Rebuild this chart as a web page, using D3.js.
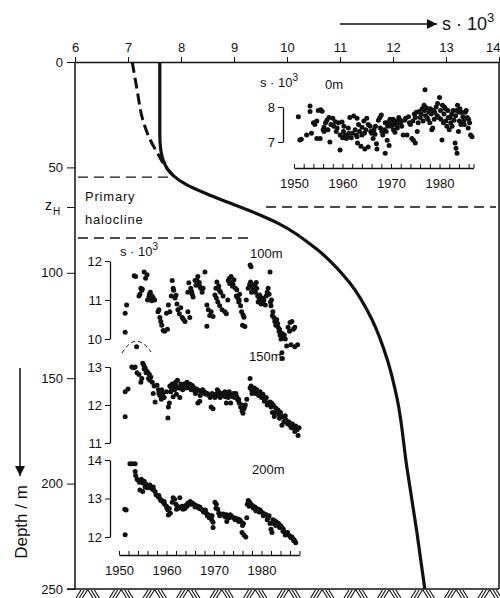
<!DOCTYPE html>
<html>
<head>
<meta charset="utf-8">
<title>Salinity profile</title>
<style>
  body { margin: 0; background: #fff; }
  svg { font-family: "Liberation Sans", Arial, sans-serif; }
  .ax line, .ax path { stroke: #111; }
  text { fill: #111; }
</style>
</head>
<body>
<svg width="500" height="598"></svg>
<script src="https://d3js.org/d3.v7.min.js"></script>
<script>
// main profile: depth (m) vs salinity (s*10^3)
const solidDepth = [0, 35, 42, 47, 51, 54, 58.3, 62.6, 66.4, 70.2, 77, 89, 105, 122, 141, 160, 192, 223, 250];
const solidSal   = [7.6, 7.6, 7.62, 7.67, 7.75, 7.86, 8.11, 8.49, 8.87, 9.26, 9.87, 10.57, 11.19, 11.6, 11.89, 12.08, 12.26, 12.45, 12.6];
const dashDepth = [0, 13, 27.5, 37, 43, 50, 54];
const dashSal   = [7.08, 7.17, 7.28, 7.42, 7.55, 7.72, 7.86];

const salTicks = [6, 7, 8, 9, 10, 11, 12, 13, 14];
const depthTicks = [0, 50, 100, 150, 200, 250];
const zH = 68.8, haloTop = 54.6, haloBottom = 83.5;
const yearTicks = [1950, 1960, 1970, 1980];

// time series [year, s*10^3]
const surface = [[1950.9,7.72],[1951.2,7.06],[1951.5,7.08],[1952.6,7.2],[1953.3,8.03],[1953.3,7.87],[1953.6,7.25],[1954.0,7.55],[1954.3,7.5],[1954.7,7.6],[1954.7,7.1],[1955.0,7.9],[1955.4,7.1],[1955.5,7.92],[1955.8,7.88],[1956.0,7.35],[1956.2,7.42],[1956.2,7.3],[1956.8,7.62],[1957.2,7.7],[1957.4,7.0],[1957.6,7.5],[1958.0,7.68],[1958.2,7.45],[1958.5,7.58],[1958.9,7.4],[1959.2,7.55],[1959.5,6.77],[1959.5,7.2],[1959.9,7.57],[1960.0,7.12],[1960.2,7.3],[1960.5,7.2],[1960.8,7.1],[1961.0,7.18],[1961.3,7.25],[1961.5,7.7],[1961.8,7.12],[1962.0,7.25],[1962.3,7.74],[1962.6,7.35],[1963.0,7.68],[1963.0,7.15],[1963.1,6.97],[1963.3,7.5],[1963.5,7.3],[1963.8,6.88],[1964.0,7.2],[1964.0,7.42],[1964.4,7.6],[1964.6,6.8],[1964.8,7.35],[1965.0,7.68],[1965.3,6.86],[1965.3,7.5],[1965.7,7.45],[1966.0,7.25],[1966.3,7.1],[1966.5,7.35],[1966.7,7.22],[1967.0,6.95],[1967.1,6.8],[1967.4,7.62],[1967.7,7.7],[1968.0,7.77],[1968.1,7.3],[1968.3,7.2],[1968.6,7.35],[1968.8,6.68],[1969.0,7.3],[1969.2,7.05],[1969.5,7.58],[1969.6,6.9],[1969.8,7.65],[1970.0,7.45],[1970.2,7.55],[1970.4,7.65],[1970.5,7.35],[1970.8,7.28],[1971.0,7.6],[1971.3,7.4],[1971.6,7.7],[1971.9,7.62],[1972.2,7.45],[1972.5,7.2],[1972.8,7.62],[1973.0,7.68],[1973.3,7.2],[1973.6,7.72],[1974.0,7.5],[1974.3,7.1],[1974.6,7.05],[1974.8,7.8],[1975.0,6.97],[1975.2,7.85],[1975.4,7.3],[1975.6,7.55],[1975.8,7.87],[1976.0,7.7],[1976.4,7.95],[1976.6,7.6],[1976.8,8.05],[1977.0,8.49],[1977.1,7.75],[1977.3,7.98],[1977.6,7.65],[1977.8,7.85],[1978.0,7.55],[1978.3,7.8],[1978.4,7.35],[1978.6,7.4],[1978.8,7.9],[1979.0,7.85],[1979.3,8.0],[1979.6,8.1],[1979.8,7.7],[1980.0,8.27],[1980.2,7.9],[1980.5,7.06],[1980.6,8.05],[1980.9,7.8],[1981.2,7.95],[1981.5,7.45],[1981.8,7.7],[1982.0,7.35],[1982.3,7.55],[1982.5,7.8],[1982.8,7.9],[1983.0,7.62],[1983.2,6.97],[1983.4,6.82],[1983.6,6.68],[1983.7,8.05],[1983.9,7.3],[1984.0,7.85],[1984.2,7.95],[1984.4,7.5],[1984.8,7.72],[1985.0,7.6],[1985.3,7.85],[1985.7,7.7],[1985.9,7.4],[1986.2,7.55],[1986.4,7.2],[1986.7,7.15],
  [1976.2,7.8],[1976.9,7.9],[1977.4,7.7],[1978.1,7.95],[1978.9,7.65],[1979.5,7.75],[1980.3,7.65],[1980.8,7.55],[1981.0,8.0],[1981.3,7.6],[1981.7,7.9],[1982.2,7.7],[1982.6,7.45],[1983.3,7.75],[1983.5,7.9],[1984.1,7.6],[1984.6,7.85],[1985.1,7.5],[1985.5,7.9],[1986.0,7.65],[1972.0,7.55],[1973.8,7.55],[1974.5,7.6],[1975.0,7.7],[1970.6,7.5],[1971.2,7.5],[1969.3,7.45],[1968.8,7.55],[1967.8,7.4],[1966.8,7.45],[1965.8,7.3],[1964.5,7.25],[1962.8,7.2],[1961.2,7.4],[1960.3,7.45],[1958.7,7.3],[1957.0,7.35],[1956.5,7.55]];

const m100 = [[1951.3,10.17],[1951.3,10.66],[1951.6,10.87],[1953.2,11.62],[1953.5,11.6],[1954.2,11.1],[1954.4,11.15],[1954.6,11.3],[1954.9,11.28],[1955.3,11.72],[1955.6,11.56],[1955.9,11.65],[1956.0,11.0],[1956.3,11.08],[1956.6,11.2],[1956.9,10.98],[1957.2,11.05],[1957.5,11.0],[1958.2,10.7],[1958.4,10.75],[1958.6,10.55],[1958.8,10.45],[1959.0,10.35],[1959.3,10.22],[1959.6,10.2],[1960.0,10.66],[1960.2,10.25],[1960.4,10.87],[1960.7,10.7],[1961.0,11.1],[1961.2,11.5],[1961.5,11.25],[1961.8,11.05],[1962.0,11.12],[1962.4,10.75],[1962.7,10.65],[1963.0,10.8],[1963.3,10.55],[1963.6,10.5],[1963.9,10.45],[1964.5,10.7],[1964.5,11.2],[1964.7,11.44],[1964.9,10.55],[1965.1,11.3],[1965.4,11.15],[1965.6,11.08],[1966.0,11.5],[1966.2,11.38],[1966.6,11.6],[1966.9,11.45],[1967.2,11.3],[1967.5,11.2],[1967.7,11.3],[1968.1,11.72],[1968.5,10.87],[1968.5,10.33],[1968.8,10.75],[1969.1,10.6],[1969.4,10.7],[1969.8,10.58],[1970.2,11.13],[1970.4,11.3],[1970.6,11.46],[1970.8,10.95],[1971.0,11.36],[1971.2,10.85],[1971.4,11.2],[1971.7,10.75],[1971.9,11.1],[1972.3,10.7],[1972.6,10.65],[1972.9,11.0],[1973.0,11.5],[1973.3,11.42],[1973.6,11.6],[1973.9,11.35],[1974.2,11.52],[1974.5,11.3],[1974.8,11.26],[1975.0,11.05],[1975.2,10.95],[1975.4,11.15],[1975.6,10.85],[1975.8,10.7],[1976.0,10.35],[1976.1,10.62],[1976.3,10.56],[1976.5,10.32],[1976.8,11.0],[1977.2,11.3],[1977.6,11.9],[1977.8,11.85],[1977.7,11.46],[1977.9,11.2],[1978.1,11.35],[1978.4,11.25],[1978.6,11.4],[1978.9,11.45],[1979.2,11.1],[1979.3,10.95],[1979.6,11.13],[1979.9,10.9],[1980.2,11.05],[1980.5,11.0],[1980.8,10.87],[1981.0,11.1],[1981.4,11.3],[1981.6,11.15],[1981.8,11.72],[1981.9,10.95],[1982.1,11.0],[1982.4,10.7],[1982.6,10.55],[1982.8,10.45],[1983.0,10.35],[1983.2,10.5],[1983.5,10.3],[1983.7,10.2],[1983.9,10.1],[1984.1,10.0],[1984.3,10.15],[1984.3,9.65],[1984.4,9.5],[1984.6,10.05],[1984.8,10.1],[1985.0,10.0],[1985.3,9.82],[1985.6,10.3],[1985.9,10.2],[1986.0,10.42],[1986.2,9.85],[1986.4,10.45],[1986.7,10.25],[1987.0,10.3],[1987.0,9.8],[1987.6,9.85],
  [1954.8,11.25],[1956.4,11.15],[1957.0,11.1],[1961.4,11.3],[1962.2,10.9],[1965.3,11.22],[1966.4,11.5],[1967.0,11.35],[1970.5,11.05],[1971.1,11.25],[1973.2,11.55],[1973.8,11.45],[1974.0,11.4],[1974.7,11.1],[1975.3,11.0],[1977.5,11.4],[1978.2,11.3],[1978.7,11.2],[1979.0,11.3],[1979.5,11.05],[1980.0,11.0],[1980.3,10.95],[1981.2,11.2],[1982.0,10.85],[1982.3,10.6],[1983.4,10.4],[1983.8,10.25],[1984.0,10.15]];

const m150 = [[1951.3,11.69],[1951.3,12.35],[1951.9,12.42],[1952.7,13.0],[1953.1,12.98],[1953.4,13.0],[1953.7,13.53],[1953.8,12.85],[1954.2,12.8],[1954.6,12.6],[1954.8,12.7],[1955.0,13.1],[1955.2,13.05],[1955.5,12.98],[1955.8,12.9],[1956.1,12.85],[1956.4,12.8],[1956.7,12.74],[1957.0,12.6],[1957.2,12.3],[1957.4,12.5],[1957.6,12.08],[1958.0,12.52],[1958.3,12.4],[1958.6,12.25],[1958.9,12.15],[1959.2,12.3],[1959.5,12.2],[1960.0,12.35],[1960.3,11.66],[1960.4,11.95],[1960.6,12.05],[1960.7,12.5],[1961.0,12.45],[1961.2,12.55],[1961.4,12.22],[1961.6,12.5],[1961.9,12.6],[1962.1,12.28],[1962.3,12.65],[1962.6,12.45],[1962.8,12.2],[1963.0,12.55],[1963.4,12.4],[1963.7,12.55],[1964.0,12.5],[1964.3,12.6],[1964.6,12.48],[1964.9,12.55],[1965.2,12.4],[1965.5,12.5],[1965.8,12.45],[1966.0,12.35],[1966.3,12.42],[1966.6,12.05],[1966.9,12.38],[1967.0,12.1],[1967.3,12.3],[1967.6,12.4],[1968.0,12.35],[1968.3,12.28],[1968.6,12.3],[1969.0,12.25],[1969.2,12.2],[1969.4,11.95],[1969.6,12.3],[1969.8,11.9],[1970.0,12.25],[1970.4,12.28],[1970.7,12.4],[1971.0,12.35],[1971.3,12.2],[1971.6,12.3],[1972.0,12.25],[1972.3,12.35],[1972.6,12.05],[1972.9,12.28],[1973.2,12.35],[1973.5,12.05],[1973.8,12.25],[1974.1,12.3],[1974.4,12.2],[1974.8,12.22],[1975.0,12.13],[1975.3,12.05],[1975.6,11.95],[1975.9,11.85],[1976.1,11.78],[1976.3,11.9],[1976.6,12.0],[1976.9,12.15],[1977.6,12.7],[1977.6,12.45],[1977.9,12.4],[1978.2,12.35],[1978.5,12.45],[1978.8,12.3],[1979.0,12.4],[1979.4,12.25],[1979.7,12.35],[1980.0,12.2],[1980.3,12.28],[1980.6,12.1],[1981.0,12.2],[1981.4,12.05],[1981.8,12.08],[1982.0,11.95],[1982.3,11.8],[1982.5,12.0],[1982.7,11.7],[1983.0,11.92],[1983.2,11.85],[1983.5,11.87],[1983.7,11.75],[1984.0,11.8],[1984.3,11.47],[1984.5,11.7],[1984.9,11.65],[1985.2,11.6],[1985.5,11.5],[1985.8,11.55],[1986.1,11.45],[1986.5,11.5],[1986.8,11.4],[1987.2,11.45],[1987.5,11.35],[1987.7,11.2],[1987.9,11.4],
  [1955.3,12.95],[1955.7,12.85],[1956.2,12.7],[1956.5,12.65],[1958.4,12.3],[1959.0,12.4],[1960.9,12.35],[1961.7,12.4],[1962.0,12.5],[1962.9,12.45],[1963.2,12.5],[1964.2,12.45],[1965.0,12.45],[1965.3,12.52],[1966.1,12.3],[1967.1,12.25],[1968.2,12.3],[1970.2,12.2],[1970.9,12.25],[1971.8,12.28],[1972.4,12.22],[1973.0,12.2],[1974.0,12.22],[1974.6,12.3],[1975.2,12.15],[1975.8,12.0],[1976.4,11.95],[1977.8,12.5],[1978.0,12.3],[1979.2,12.3],[1980.8,12.15],[1981.2,12.0],[1982.1,12.05],[1982.9,11.8],[1983.8,11.65],[1984.7,11.55],[1985.0,11.72],[1986.3,11.4],[1987.0,11.3]];

const m200 = [[1951.2,12.72],[1951.5,12.7],[1951.3,12.06],[1952.3,13.9],[1952.8,13.9],[1953.4,13.9],[1953.4,13.7],[1953.5,13.6],[1954.0,13.48],[1954.3,13.42],[1954.4,13.22],[1954.7,13.5],[1955.0,13.4],[1955.0,13.18],[1955.3,13.45],[1955.6,13.38],[1955.9,13.35],[1956.3,13.3],[1956.7,13.28],[1957.0,13.25],[1957.3,13.22],[1957.6,13.18],[1958.2,13.05],[1958.6,13.0],[1959.0,12.95],[1959.3,12.9],[1959.6,12.85],[1960.0,12.8],[1960.3,12.7],[1960.4,12.57],[1960.6,12.74],[1960.8,12.62],[1961.4,13.02],[1961.7,12.98],[1962.0,12.85],[1962.3,12.8],[1962.6,12.75],[1962.8,13.02],[1963.1,12.78],[1963.5,12.72],[1963.9,12.74],[1964.3,12.8],[1964.7,12.85],[1965.0,12.92],[1965.4,12.88],[1965.8,12.85],[1966.2,12.82],[1966.6,12.8],[1967.0,12.78],[1967.3,12.72],[1967.6,12.7],[1968.0,12.65],[1968.4,12.62],[1968.8,12.58],[1969.2,12.55],[1969.5,12.45],[1969.8,12.38],[1969.8,12.25],[1970.2,12.9],[1970.5,12.85],[1970.8,12.72],[1971.0,12.62],[1971.4,12.6],[1971.8,12.58],[1972.2,12.55],[1972.6,12.58],[1972.7,12.4],[1973.0,12.56],[1973.4,12.58],[1973.8,12.52],[1974.2,12.5],[1974.6,12.48],[1975.0,12.47],[1975.4,12.45],[1975.7,12.4],[1975.9,12.12],[1976.2,12.35],[1976.3,12.05],[1976.7,12.0],[1976.9,12.5],[1977.2,12.95],[1977.5,12.9],[1977.8,12.85],[1978.0,12.82],[1978.3,12.75],[1978.6,12.78],[1978.9,12.75],[1979.3,12.72],[1979.7,12.7],[1980.0,12.65],[1980.3,12.62],[1980.6,12.6],[1981.0,12.58],[1981.4,12.5],[1981.8,12.35],[1982.0,12.2],[1982.2,12.12],[1982.4,12.45],[1982.8,12.42],[1983.2,12.38],[1983.6,12.35],[1984.0,12.3],[1984.3,12.25],[1984.5,12.15],[1984.9,12.12],[1985.3,12.08],[1985.7,12.05],[1986.0,12.02],[1986.4,12.0],[1986.7,11.95],[1987.0,11.9],[1987.2,11.85],
  [1953.8,13.5],[1954.5,13.45],[1955.5,13.3],[1956.0,13.28],[1956.5,13.35],[1957.2,13.3],[1957.8,13.1],[1958.4,13.08],[1958.8,12.95],[1959.5,12.92],[1960.1,12.75],[1961.2,12.9],[1962.1,12.72],[1963.3,12.8],[1964.0,12.82],[1964.5,12.88],[1965.2,12.85],[1966.0,12.78],[1966.8,12.75],[1967.8,12.65],[1968.2,12.7],[1968.6,12.55],[1969.0,12.5],[1969.6,12.55],[1970.4,12.75],[1971.2,12.55],[1972.0,12.6],[1972.4,12.52],[1973.2,12.5],[1973.6,12.55],[1974.4,12.45],[1975.2,12.4],[1976.0,12.3],[1977.0,12.85],[1977.4,12.8],[1978.2,12.8],[1978.8,12.68],[1979.5,12.65],[1980.4,12.55],[1981.2,12.45],[1981.6,12.55],[1982.6,12.35],[1983.0,12.3],[1983.8,12.25],[1984.6,12.2],[1985.0,12.05],[1985.5,12.12],[1986.2,11.98],[1986.8,11.9]];

const svg = d3.select('svg');
const ink = '#111';
const dotR = 2.5;

// main scales
const x = d3.scaleLinear().domain([6, 14]).range([75, 499]);
const y = d3.scaleLinear().domain([0, 250]).range([62, 589]);

// frame
svg.append('line').attr('x1', 75).attr('x2', 75).attr('y1', 62).attr('y2', 589).attr('stroke', ink).attr('stroke-width', 1.5);
svg.append('line').attr('x1', 499).attr('x2', 499).attr('y1', 62).attr('y2', 589).attr('stroke', ink).attr('stroke-width', 1.5);

// top axis
const topAxis = svg.append('g').attr('class', 'ax').attr('transform', 'translate(0,62)')
  .call(d3.axisTop(x).tickValues(salTicks).tickSize(5).tickSizeOuter(0).tickFormat(d3.format('d')));
topAxis.select('.domain').attr('stroke-width', 1.5);
topAxis.selectAll('text').attr('font-size', 13).attr('dy', -2);
topAxis.selectAll('.tick').filter(d => d === 14).select('text').attr('text-anchor', 'end').attr('x', 1);

// left axis
const leftAxis = svg.append('g').attr('class', 'ax').attr('transform', 'translate(75,0)')
  .call(d3.axisLeft(y).tickValues(depthTicks.concat([zH])).tickSize(8).tickSizeOuter(0)
    .tickFormat(d => d === zH ? '' : d));
leftAxis.select('.domain').remove();
leftAxis.selectAll('text').attr('font-size', 13).attr('dx', -1);
const zl = svg.append('text').attr('x', 45).attr('y', y(zH) + 3).attr('font-size', 14);
zl.append('tspan').text('z');
zl.append('tspan').attr('font-size', 10).attr('dy', 5).attr('dx', 1).text('H');

// sea bed with hatching
svg.append('line').attr('x1', 67).attr('x2', 499).attr('y1', y(250)).attr('y2', y(250)).attr('stroke', ink).attr('stroke-width', 1.5);
const hatch = d3.path();
for (let gx = 76; gx < 500; gx += 33.5) {
  for (let k = 0; k < 3; k++) { hatch.moveTo(gx + k * 3.2, 598); hatch.lineTo(gx + k * 3.2 + 5, 590); }
  for (let k = 0; k < 3; k++) { hatch.moveTo(gx + 12 + k * 3.2, 590); hatch.lineTo(gx + 12 + k * 3.2 + 5, 598); }
}
svg.append('path').attr('d', hatch.toString()).attr('stroke', ink).attr('stroke-width', 1.1).attr('fill', 'none');

// halocline dashed lines
const dash = (x1, x2, d) => svg.append('line').attr('x1', x1).attr('x2', x2).attr('y1', y(d)).attr('y2', y(d))
  .attr('stroke', ink).attr('stroke-width', 1.4).attr('stroke-dasharray', '10,6');
dash(78, 172, haloTop);
dash(266, 496, zH);
dash(78, 248, haloBottom);
svg.append('text').attr('x', 85).attr('y', 201).attr('font-size', 13).attr('letter-spacing', 0.8).text('Primary');
svg.append('text').attr('x', 85).attr('y', 224).attr('font-size', 13).attr('letter-spacing', 0.8).text('halocline');

// profiles
const line = d3.line().curve(d3.curveMonotoneY);
svg.append('path')
  .attr('d', line(solidDepth.map((d, i) => [x(solidSal[i]), y(d)])))
  .attr('fill', 'none').attr('stroke', ink).attr('stroke-width', 3.2);
svg.append('path')
  .attr('d', line(dashDepth.map((d, i) => [x(dashSal[i]), y(d)])))
  .attr('fill', 'none').attr('stroke', ink).attr('stroke-width', 3).attr('stroke-dasharray', '11,5');

// top arrow & label
svg.append('defs').append('marker').attr('id', 'ah').attr('viewBox', '0 0 10 10').attr('refX', 10).attr('refY', 5)
  .attr('markerWidth', 12).attr('markerHeight', 10).attr('markerUnits', 'userSpaceOnUse').attr('orient', 'auto')
  .append('path').attr('d', 'M0,0L10,5L0,10Z').attr('fill', ink);
svg.append('line').attr('x1', 340).attr('x2', 437).attr('y1', 24).attr('y2', 24).attr('stroke', ink).attr('stroke-width', 1.5).attr('marker-end', 'url(#ah)');
const st = svg.append('text').attr('x', 442).attr('y', 30).attr('font-size', 18);
st.append('tspan').text('s · 10');
st.append('tspan').attr('font-size', 13).attr('dy', -8).text('3');

// depth arrow & label
svg.append('line').attr('x1', 20).attr('x2', 20).attr('y1', 368).attr('y2', 476).attr('stroke', ink).attr('stroke-width', 1.5).attr('marker-end', 'url(#ah)');
svg.append('text').attr('transform', 'translate(27,522) rotate(-90)').attr('text-anchor', 'middle').attr('font-size', 17).text('Depth / m');

// ---- surface inset
const xs = d3.scaleLinear().domain([1950, 1987]).range([294, 473.5]);
const ys = d3.scaleLinear().domain([7, 8]).range([142, 107]);
svg.append('g').attr('class', 'ax').attr('transform', 'translate(0,168)')
  .call(d3.axisTop(xs).tickValues(d3.range(1950, 1988, 2).concat([1987])).tickSize(4).tickSizeOuter(0).tickFormat(''));
svg.append('g').attr('class', 'ax').attr('transform', 'translate(0,168)')
  .call(d3.axisBottom(xs).tickValues(yearTicks).tickSize(0).tickFormat(d3.format('d')))
  .call(g => g.select('.domain').remove())
  .selectAll('text').attr('font-size', 13).attr('dy', 17);
const sy = svg.append('g').attr('class', 'ax').attr('transform', 'translate(283,0)')
  .call(d3.axisLeft(ys).tickValues([7, 8]).tickSize(5).tickSizeOuter(0).tickFormat(d3.format('d')));
sy.selectAll('text').attr('font-size', 13);
svg.selectAll('.ax path.domain').attr('stroke-width', 1.3);
svg.append('g').selectAll('circle').data(surface).join('circle')
  .attr('cx', d => xs(d[0])).attr('cy', d => ys(d[1])).attr('r', dotR).attr('fill', ink);
const sl = svg.append('text').attr('x', 260).attr('y', 87).attr('font-size', 13);
sl.append('tspan').text('s · 10');
sl.append('tspan').attr('font-size', 10).attr('dy', -6).text('3');
svg.append('text').attr('x', 325).attr('y', 89).attr('font-size', 13).text('0m');

// ---- deep insets
const xl = d3.scaleLinear().domain([1950, 1988]).range([119, 299.5]);
svg.append('g').attr('class', 'ax').attr('transform', 'translate(0,555)')
  .call(d3.axisTop(xl).tickValues(d3.range(1950, 1988, 2).concat([1988])).tickSize(4).tickSizeOuter(0).tickFormat(''))
  .select('.domain').attr('stroke-width', 1.3);
svg.append('g').attr('class', 'ax').attr('transform', 'translate(0,555)')
  .call(d3.axisBottom(xl).tickValues(yearTicks).tickSize(0).tickFormat(d3.format('d')))
  .call(g => g.select('.domain').remove())
  .selectAll('text').attr('font-size', 13).attr('dy', 17);

const insets = [
  { data: m100, dom: [10, 12], rng: [339, 261], label: '100m', lx: 250, ly: 258 },
  { data: m150, dom: [11, 13], rng: [443, 367], label: '150m', lx: 249, ly: 361 },
  { data: m200, dom: [12, 14], rng: [537, 460], label: '200m', lx: 252, ly: 474 }
];
insets.forEach(s => {
  const yy = d3.scaleLinear().domain(s.dom).range(s.rng);
  const g = svg.append('g').attr('class', 'ax').attr('transform', 'translate(110,0)')
    .call(d3.axisLeft(yy).tickValues(d3.range(s.dom[0], s.dom[1] + 1)).tickSize(5).tickSizeOuter(0).tickFormat(d3.format('d')));
  g.select('.domain').attr('stroke-width', 1.3);
  g.selectAll('text').attr('font-size', 13);
  svg.append('g').selectAll('circle').data(s.data).join('circle')
    .attr('cx', d => xl(d[0])).attr('cy', d => yy(d[1])).attr('r', dotR).attr('fill', ink);
  svg.append('text').attr('x', s.lx).attr('y', s.ly).attr('font-size', 13).text(s.label);
});
const dl = svg.append('text').attr('x', 120).attr('y', 256).attr('font-size', 13);
dl.append('tspan').text('s · 10');
dl.append('tspan').attr('font-size', 10).attr('dy', -6).text('3');

// dashed arc over the 1953 outlier at 150 m
svg.append('path').attr('d', 'M122,353 Q136,330 151,352').attr('fill', 'none')
  .attr('stroke', ink).attr('stroke-width', 1).attr('stroke-dasharray', '4,3');
</script>
</body>
</html>
